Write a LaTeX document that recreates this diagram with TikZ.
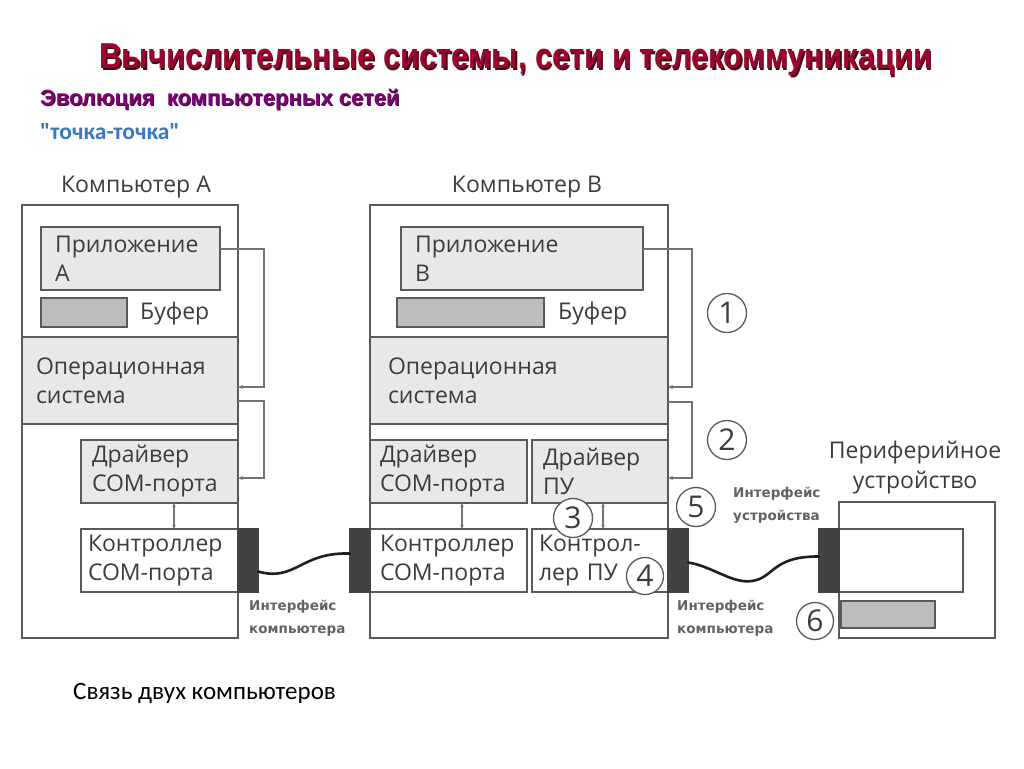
\documentclass[tikz,border=0pt]{standalone}
\usepackage{fontspec}
\usepackage{graphicx}
\setmainfont{Open Sans}
\newfontfamily\titlefont{Liberation Sans}
\newfontfamily\capfont{Carlito}
\newfontfamily\ptfont[Ligatures=TeXOff]{Carlito}
\newfontfamily\smallfont{DejaVu Sans}
\usetikzlibrary{arrows.meta,calc}
\definecolor{titlered}{HTML}{A3002C}
\definecolor{titleshadow}{HTML}{3A1018}
\definecolor{subpurple}{HTML}{800078}
\definecolor{subshadow}{HTML}{3A1030}
\definecolor{ptblue}{HTML}{3A78C2}
\definecolor{edge}{HTML}{5A5A5A}
\definecolor{lightfill}{HTML}{E8E8E8}
\definecolor{buffill}{HTML}{BDBDBD}
\definecolor{portfill}{HTML}{424242}
\definecolor{txt}{HTML}{3C3C3C}
\newcommand\dtext{\fontsize{23}{29}\selectfont}
\newcommand\stext{\smallfont\bfseries\fontsize{13.5}{23}\selectfont}
\newcommand\mkbox[8]{%
  \pgfmathsetmacro\bxw{#4-#2}\pgfmathsetmacro\bxh{#5-#3}\pgfmathsetmacro\bxt{#4-#2-2*#7}%
  \node[#6, anchor=north west, minimum width=\bxw pt, minimum height=\bxh pt,
        text width=\bxt pt, inner xsep=#7 pt] (#1) at (#2,#3) {#8};}
\tikzset{
  boxbase/.style={draw=edge, line width=1.5pt, inner ysep=0pt, outer sep=0pt, align=left, text=txt, font=\dtext},
  frame/.style={boxbase, fill=white},
  osr/.style={boxbase, fill=lightfill},
  light/.style={boxbase, fill=lightfill},
  plain/.style={boxbase, fill=white},
  buf/.style={boxbase, fill=buffill},
  port/.style={boxbase, draw=portfill, fill=portfill},
  lbl/.style={text=txt, font=\dtext, inner sep=0pt},
  small/.style={text=txt!80, font=\stext, inner sep=0pt, align=left, anchor=west},
  circ/.style={circle, draw=edge, line width=1.3pt, fill=white, minimum size=39pt, inner sep=0pt, text=txt, font=\fontsize{30}{30}\selectfont},
  flow/.style={draw=edge!85, line width=1.3pt, -{Stealth[length=5pt,width=4pt]}},
  dbl/.style={draw=edge!85, line width=1.1pt, {Stealth[length=4pt,width=3.5pt]}-{Stealth[length=4pt,width=3.5pt]}},
  cable/.style={draw=black!88, line width=2.6pt, line cap=round},
}
\begin{document}
\begin{tikzpicture}[x=1pt,y=-1pt]
\useasboundingbox[fill=white] (0,0) rectangle (1024,768);

% headings
\node[inner sep=0pt, text=titleshadow, font=\titlefont\bfseries\fontsize{36}{36}\selectfont] (titleShadow) at (517.5,61.5) {\scalebox{0.86}[1]{Вычислительные системы, сети и телекоммуникации}};
\node[inner sep=0pt, text=titlered, font=\titlefont\bfseries\fontsize{36}{36}\selectfont] (title) at (516,60) {\scalebox{0.86}[1]{Вычислительные системы, сети и телекоммуникации}};
\node[inner sep=0pt, anchor=west, text=subshadow, font=\titlefont\bfseries\fontsize{22}{22}\selectfont] (subShadow) at (41,101) {Эволюция\ \ компьютерных сетей};
\node[inner sep=0pt, anchor=west, text=subpurple, font=\titlefont\bfseries\fontsize{22}{22}\selectfont] (sub) at (40,100) {Эволюция\ \ компьютерных сетей};
\node[inner sep=0pt, anchor=west, text=ptblue, font=\ptfont\bfseries\fontsize{23.5}{24}\selectfont] (ptp) at (40,132) {"точка-точка"};

% computer A
\node[lbl] (lblA) at (136,187) {Компьютер А};
\mkbox{compA}{22}{205}{238}{638}{frame}{0}{}
\mkbox{osA}{22}{337}{238}{424}{osr}{14}{Операционная\\система}
\mkbox{appA}{41}{227}{220}{290}{light}{14}{Приложение\\А}
\mkbox{bufA}{41}{298}{127}{327}{buf}{0}{}
\node[lbl, anchor=west] (bufAl) at (140,314) {Буфер};
\mkbox{drvA}{81}{440}{238}{503}{light}{11}{Драйвер\\COM-порта}
\mkbox{ctlA}{81}{529}{238}{592}{plain}{7}{Контроллер\\COM-порта}
\mkbox{portA}{238}{529}{258}{592}{port}{0}{}

% computer B
\node[lbl] (lblB) at (527,187) {Компьютер В};
\mkbox{compB}{370}{205}{668}{638}{frame}{0}{}
\mkbox{osB}{370}{337}{668}{424}{osr}{18}{Операционная\\система}
\mkbox{appB}{401}{227}{643}{290}{light}{14}{Приложение\\В}
\mkbox{bufB}{397}{298}{544}{327}{buf}{0}{}
\node[lbl, anchor=west] (bufBl) at (558,314) {Буфер};
\mkbox{drvB}{370}{440}{527}{503}{light}{10}{Драйвер\\COM-порта}
\mkbox{drvP}{532}{440}{668}{503}{light}{11}{Драйвер\\ПУ}
\mkbox{ctlB}{370}{529}{527}{592}{plain}{10}{Контроллер\\COM-порта}
\mkbox{ctlP}{532}{529}{668}{592}{plain}{7}{Контрол-\\лер ПУ}
\mkbox{portB}{350}{529}{370}{592}{port}{0}{}
\mkbox{portC}{668}{529}{688}{592}{port}{0}{}

% peripheral device
\node[lbl, align=center] (lblP) at (915,468) {Периферийное\\[1pt]устройство};
\mkbox{perB}{839}{502}{995}{638}{frame}{0}{}
\mkbox{perIn}{839}{529}{963}{592}{plain}{0}{}
\mkbox{perBuf}{841}{601}{935}{628}{buf}{0}{}
\mkbox{portP}{819}{529}{839}{592}{port}{0}{}

% flows
\draw[flow] ($(appA.north east)+(0,22)$) -- ++(44,0) |- ($(osA.north east)+(0,50)$);
\draw[flow] ($(osA.north east)+(0,64)$) -- ++(26,0) |- ($(drvA.north east)+(0,38)$);
\draw[flow] ($(appB.north east)+(0,22)$) -- ++(49,0) |- ($(osB.north east)+(0,50)$);
\draw[flow] ($(osB.north east)+(0,65)$) -- ++(24,0) |- ($(drvP.north east)+(0,38)$);
\draw[dbl] ($(drvA.south west)+(93,0)$) -- ($(ctlA.north west)+(93,0)$);
\draw[dbl] ($(drvB.south west)+(92,0)$) -- ($(ctlB.north west)+(92,0)$);
\draw[dbl] ($(drvP.south west)+(71,0)$) -- ($(ctlP.north west)+(71,0)$);

% cables
\draw[cable] ($(portA.east)+(0,11)$) .. controls (296,582) and (300,552) .. ($(portB.west)+(0,-7)$);
\coordinate (dip) at (752,581);
\draw[cable] ($(portC.east)+(0,2)$) .. controls (712,566) and (732,584) .. (dip) .. controls (774,578) and (772,556) .. ($(portP.west)+(0,-4)$);

% interface labels
\node[small] (ifA) at (249,618.5) {Интерфейс\\компьютера};
\node[small] (ifB) at (677,618.5) {Интерфейс\\компьютера};
\node[small] (ifD) at (733,505) {Интерфейс\\устройства};

% numbered circles
\node[circ] (c1) at (727,313) {1};
\node[circ] (c2) at (727,440) {2};
\node[circ] (c3) at (573,518) {3};
\node[circ, minimum size=37pt] (c4) at (645,576) {4};
\node[circ] (c5) at (696,507) {5};
\node[circ, minimum size=37pt] (c6) at (815,621) {6};

% caption
\node[inner sep=0pt, anchor=west, font=\capfont\fontsize{25}{25}\selectfont] (cap) at (73,693) {Связь двух компьютеров};
\end{tikzpicture}
\end{document}
